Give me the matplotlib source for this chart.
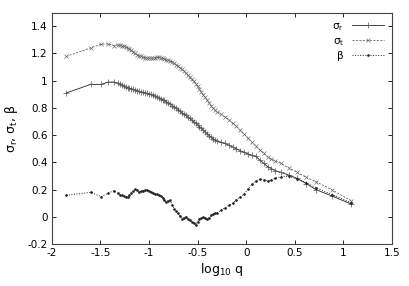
import matplotlib
matplotlib.use("Agg")
import matplotlib.pyplot as plt
from matplotlib.ticker import FuncFormatter

# log10 q grid (sparse at the ends, dense in the middle)
logq = [-1.85, -1.60, -1.49, -1.42, -1.36,
        -1.32, -1.30, -1.28, -1.26, -1.24, -1.22, -1.20, -1.18, -1.16, -1.14,
        -1.12, -1.10, -1.08, -1.06, -1.04, -1.02, -1.00, -0.98, -0.96, -0.94,
        -0.92, -0.90, -0.88, -0.86, -0.84, -0.82, -0.80, -0.78, -0.76, -0.74,
        -0.72, -0.70, -0.68, -0.66, -0.64, -0.62, -0.60, -0.58, -0.56, -0.54,
        -0.52, -0.50, -0.48, -0.46, -0.44, -0.42, -0.40, -0.38, -0.36, -0.34,
        -0.32, -0.30,
        -0.26, -0.22, -0.18, -0.14, -0.10, -0.06, -0.02, 0.02, 0.06, 0.10,
        0.14, 0.18, 0.22, 0.26, 0.30,
        0.36, 0.44, 0.52, 0.62, 0.72, 0.88, 1.08]

sigma_r = [0.910, 0.973, 0.973, 0.990, 0.990,
           0.982, 0.978, 0.970, 0.962, 0.955, 0.950, 0.945, 0.941, 0.937, 0.933,
           0.927, 0.922, 0.918, 0.914, 0.910, 0.907, 0.903, 0.899, 0.894, 0.889,
           0.882, 0.876, 0.869, 0.862, 0.855, 0.846, 0.837, 0.828, 0.818, 0.808,
           0.798, 0.788, 0.777, 0.766, 0.756, 0.745, 0.734, 0.723, 0.712, 0.700,
           0.688, 0.676, 0.663, 0.650, 0.637, 0.624, 0.610, 0.597, 0.585, 0.574,
           0.565, 0.558,
           0.548, 0.540, 0.528, 0.514, 0.500, 0.487, 0.474, 0.462, 0.452, 0.445,
           0.418, 0.395, 0.370, 0.355, 0.340,
           0.327, 0.307, 0.285, 0.245, 0.200, 0.155, 0.095]

sigma_t = [1.178, 1.241, 1.268, 1.270, 1.258,
           1.262, 1.260, 1.258, 1.254, 1.248, 1.242, 1.232, 1.222, 1.212, 1.200,
           1.190, 1.184, 1.178, 1.174, 1.170, 1.168, 1.166, 1.165, 1.167, 1.170,
           1.172, 1.171, 1.168, 1.164, 1.159, 1.154, 1.150, 1.145, 1.138, 1.128,
           1.118, 1.108, 1.096, 1.085, 1.070, 1.055, 1.040, 1.025, 1.010, 0.995,
           0.976, 0.958, 0.938, 0.918, 0.898, 0.877, 0.856, 0.836, 0.816, 0.798,
           0.783, 0.772,
           0.755, 0.735, 0.715, 0.688, 0.665, 0.638, 0.608, 0.578, 0.550, 0.520,
           0.493, 0.467, 0.442, 0.425, 0.412,
           0.393, 0.360, 0.330, 0.290, 0.258, 0.200, 0.120]

beta = [0.159, 0.181, 0.149, 0.176, 0.193,
        0.175, 0.164, 0.158, 0.152, 0.150, 0.149, 0.160, 0.173, 0.188, 0.203,
        0.195, 0.181, 0.188, 0.193, 0.196, 0.198, 0.192, 0.182, 0.178, 0.172,
        0.166, 0.160, 0.152, 0.140, 0.125, 0.112, 0.120, 0.122, 0.085, 0.062,
        0.042, 0.030, 0.005, -0.012, -0.004, 0.002, -0.018, -0.025, -0.034, -0.042,
        -0.058, -0.035, -0.017, -0.008, -0.002, -0.010, -0.017, -0.005, 0.012, 0.020,
        0.028, 0.032,
        0.048, 0.066, 0.085, 0.100, 0.128, 0.148, 0.170, 0.205, 0.240, 0.262,
        0.278, 0.272, 0.266, 0.272, 0.285,
        0.295, 0.298, 0.280, 0.250, 0.215, 0.165, 0.105]

xticks = [-2, -1.5, -1, -0.5, 0, 0.5, 1, 1.5]
yticks = [-0.2, 0, 0.2, 0.4, 0.6, 0.8, 1.0, 1.2, 1.4]

fig = plt.figure(figsize=(4.09, 2.86), dpi=100)
ax = fig.add_axes([0.1264, 0.146, 0.832, 0.81])

ax.plot(logq, sigma_r, '-', marker='+', color='#222222', lw=0.6, ms=4, mew=0.5,
        mec='#555555', label='σ$_\\mathrm{r}$')
ax.plot(logq, sigma_t, '--', marker='x', color='#444444', lw=0.5, ms=3.2, mew=0.45,
        mec='#666666', dashes=(3, 2), label='σ$_\\mathrm{t}$')
ax.plot(logq, beta, ':', marker='.', color='#222222', lw=0.7, ms=1.8,
        label='β')

ax.set_xlim(-2, 1.5)
ax.set_ylim(-0.2, 1.5)
ax.set_xticks(xticks)
ax.set_yticks(yticks)
fmt = FuncFormatter(lambda v, p: '%g' % round(v, 3) if abs(v) > 1e-9 else '0')
ax.xaxis.set_major_formatter(fmt)
ax.yaxis.set_major_formatter(fmt)
ax.tick_params(direction='in', top=True, right=True, length=3, width=0.6,
               labelsize=7.5, pad=3)
for s in ax.spines.values():
    s.set_linewidth(0.8)
    s.set_color('#444444')

ax.set_xlabel(r'log$_{10}$ q', fontsize=9, labelpad=2)
ax.set_ylabel('σ$_\\mathrm{r}$, σ$_\\mathrm{t}$, β', fontsize=9, labelpad=5)

ax.legend(loc='upper right', frameon=False, markerfirst=False, fontsize=7.5,
          handlelength=3.0, handletextpad=0.8, labelspacing=0.3,
          borderaxespad=0.4)

fig.savefig('out.png', dpi=100)
